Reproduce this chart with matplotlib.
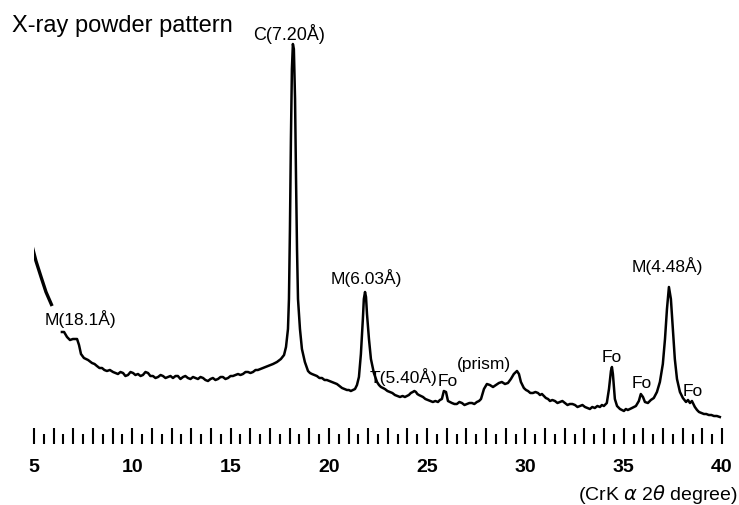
#!/usr/bin/env python3
"""X-ray powder pattern (CrK alpha), redrawn from a scanned diffractogram."""

import matplotlib
matplotlib.use("Agg")
import matplotlib.pyplot as plt
from matplotlib.ticker import MultipleLocator, FuncFormatter

# steep low-angle background, cut off where the label sits
low_angle_2theta = [4.85, 5.10, 5.36, 5.61, 5.92]
low_angle_intensity = [200, 181, 165, 150, 136]

# main trace (2theta in degree, intensity in arbitrary units)
two_theta = [
    6.42, 6.53, 6.68, 6.83, 6.98, 7.19, 7.29, 7.39, 7.54, 7.75,
    7.95, 8.08, 8.20, 8.33, 8.46, 8.58, 8.71, 8.86, 9.02, 9.14,
    9.27, 9.40, 9.53, 9.65, 9.78, 9.91, 10.04, 10.16, 10.29, 10.42,
    10.54, 10.67, 10.80, 10.92, 11.05, 11.18, 11.31, 11.44, 11.56, 11.69,
    11.82, 11.94, 12.07, 12.20, 12.32, 12.45, 12.58, 12.70, 12.83, 12.96,
    13.09, 13.21, 13.34, 13.47, 13.60, 13.72, 13.85, 13.98, 14.10, 14.23,
    14.36, 14.49, 14.61, 14.74, 14.87, 15.00, 15.12, 15.25, 15.38, 15.50,
    15.63, 15.76, 15.89, 16.01, 16.14, 16.27, 16.39, 16.52, 16.65, 16.78,
    16.90, 17.03, 17.16, 17.36, 17.56, 17.72, 17.82, 17.92, 17.97, 18.02,
    18.07, 18.12, 18.17, 18.22, 18.28, 18.33, 18.38, 18.43, 18.53, 18.63,
    18.78, 18.94, 19.04, 19.14, 19.27, 19.39, 19.52, 19.65, 19.78, 19.90,
    20.03, 20.16, 20.28, 20.41, 20.54, 20.67, 20.80, 20.92, 21.02, 21.12,
    21.22, 21.33, 21.43, 21.53, 21.63, 21.73, 21.78, 21.84, 21.89, 21.94,
    22.04, 22.14, 22.29, 22.45, 22.55, 22.65, 22.75, 22.85, 22.98, 23.11,
    23.23, 23.36, 23.49, 23.62, 23.75, 23.87, 23.97, 24.07, 24.17, 24.27,
    24.35, 24.43, 24.50, 24.58, 24.69, 24.79, 24.91, 25.04, 25.17, 25.29,
    25.42, 25.55, 25.65, 25.75, 25.85, 25.96, 26.06, 26.16, 26.26, 26.39,
    26.51, 26.64, 26.77, 26.90, 27.02, 27.15, 27.28, 27.40, 27.53, 27.64,
    27.74, 27.89, 28.04, 28.19, 28.35, 28.50, 28.65, 28.80, 28.96, 29.11,
    29.26, 29.41, 29.57, 29.67, 29.77, 29.92, 30.03, 30.13, 30.25, 30.38,
    30.51, 30.64, 30.74, 30.84, 30.94, 31.04, 31.15, 31.25, 31.37, 31.50,
    31.63, 31.76, 31.88, 32.01, 32.14, 32.26, 32.39, 32.52, 32.65, 32.77,
    32.90, 33.03, 33.15, 33.28, 33.40, 33.53, 33.66, 33.79, 33.89, 33.99,
    34.14, 34.25, 34.35, 34.40, 34.45, 34.55, 34.66, 34.81, 34.91, 35.01,
    35.11, 35.21, 35.32, 35.42, 35.52, 35.62, 35.77, 35.87, 35.98, 36.08,
    36.23, 36.38, 36.53, 36.69, 36.84, 36.99, 37.10, 37.20, 37.30, 37.40,
    37.50, 37.60, 37.71, 37.86, 38.01, 38.17, 38.27, 38.37, 38.47, 38.62,
    38.73, 38.83, 38.95, 39.08, 39.20, 39.33, 39.46, 39.59, 39.74, 39.89,
]
intensity = [
    110, 110, 105, 102, 103, 103, 97, 88, 84, 82,
    79, 78, 76, 74, 74, 72, 71, 72, 70, 69,
    68, 70, 69, 66, 67, 70, 69, 67, 68, 66,
    67, 70, 69, 66, 66, 64, 65, 67, 66, 64,
    65, 66, 64, 66, 66, 63, 65, 66, 64, 63,
    65, 64, 63, 65, 64, 62, 61, 63, 64, 62,
    63, 65, 65, 63, 64, 66, 66, 67, 68, 67,
    68, 70, 70, 69, 70, 72, 72, 73, 74, 75,
    76, 77, 78, 80, 83, 87, 95, 113, 143, 213,
    303, 373, 398, 393, 343, 263, 193, 143, 113, 93,
    80, 71, 69, 68, 67, 66, 64, 64, 62, 62,
    61, 60, 59, 58, 56, 54, 53, 52, 52, 51,
    52, 53, 57, 65, 88, 123, 143, 150, 145, 128,
    103, 83, 69, 60, 57, 55, 54, 53, 51, 50,
    49, 47, 46, 45, 46, 45, 46, 47, 49, 50,
    51, 50, 48, 47, 46, 45, 43, 42, 41, 40,
    41, 40, 42, 43, 51, 50, 41, 40, 39, 38,
    38, 40, 39, 37, 38, 39, 39, 38, 40, 41,
    43, 53, 58, 57, 55, 57, 59, 60, 58, 59,
    63, 68, 71, 68, 60, 54, 52, 51, 49, 49,
    50, 49, 47, 48, 46, 44, 43, 41, 42, 41,
    39, 40, 41, 39, 37, 38, 38, 37, 35, 36,
    37, 35, 34, 33, 35, 34, 36, 35, 37, 36,
    39, 53, 71, 75, 68, 43, 36, 33, 32, 31,
    33, 32, 33, 34, 35, 36, 41, 48, 45, 40,
    39, 42, 44, 50, 60, 78, 103, 133, 155, 143,
    113, 83, 63, 50, 44, 40, 42, 39, 41, 35,
    32, 30, 29, 28, 28, 27, 27, 26, 26, 25,
]

# peak labels: text, 2theta, intensity of the label centre
peak_labels = ["C(7.20Å)", "M(18.1Å)", "M(6.03Å)", "T(5.40Å)", "Fo",
               "(prism)", "Fo", "Fo", "M(4.48Å)", "Fo"]
label_2theta = [17.97, 7.34, 21.89, 23.78, 26.06, 27.87, 34.40, 35.93, 37.20, 38.52]
label_intensity = [409, 124, 165, 66, 61, 78, 85, 59, 177, 51]

W, H = 739, 506
fig = plt.figure(figsize=(W / 100, H / 100), dpi=100)
plt.rcParams['font.family'] = ['Liberation Sans', 'DejaVu Sans']

# axes placed so 5 deg and 40 deg land on the ruler ends
ax = fig.add_axes([34 / W, (H - 445) / H, 688 / W, 405 / H])
ax.set_xlim(5, 40)
ax.set_ylim(-2, 403)

ax.plot(low_angle_2theta, low_angle_intensity, color='black', lw=2.4,
        solid_capstyle='butt')
ax.plot(two_theta, intensity, color='black', lw=1.8, solid_joinstyle='round')

for txt, x, y in zip(peak_labels, label_2theta, label_intensity):
    size = 13 if txt.startswith('C') else 12.5
    ax.text(x, y, txt, ha='center', va='center', fontsize=size, clip_on=False)

# ruler-style x axis: tall ticks on integers, short on halves
for side in ['top', 'right', 'left', 'bottom']:
    ax.spines[side].set_visible(False)
ax.yaxis.set_visible(False)
ax.xaxis.set_major_locator(MultipleLocator(1))
ax.xaxis.set_minor_locator(MultipleLocator(0.5))
ax.xaxis.set_major_formatter(
    FuncFormatter(lambda v, pos: f"{int(round(v))}" if round(v) % 5 == 0 else ""))
ax.tick_params(axis='x', which='major', direction='in', length=11.5, width=1.5,
               pad=10, labelsize=14)
ax.tick_params(axis='x', which='minor', direction='in', length=7, width=1.5)
for lab in ax.get_xticklabels():
    lab.set_fontweight('bold')

fig.text(12 / W, 1 - 32 / H, "X-ray powder pattern", fontsize=17,
         ha='left', va='baseline')
fig.text(738 / W, 1 - 500 / H, r"(CrK $\alpha$ 2$\theta$ degree)", fontsize=14,
         ha='right', va='baseline')

fig.savefig("out.png", dpi=100)
